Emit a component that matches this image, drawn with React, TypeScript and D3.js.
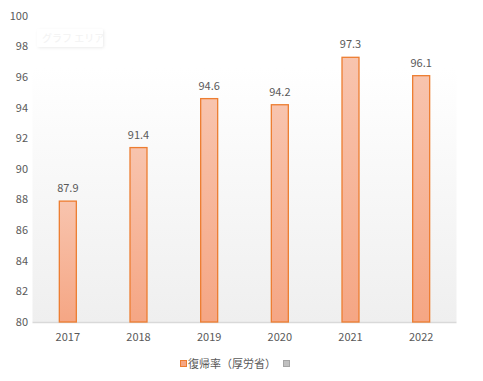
import React from "react";
import * as d3 from "d3";

const categories = ["2017", "2018", "2019", "2020", "2021", "2022"];
const values = [87.9, 91.4, 94.6, 94.2, 97.3, 96.1];
const yTicks = [80, 82, 84, 86, 88, 90, 92, 94, 96, 98, 100];
const seriesName = "復帰率（厚労省）";

export default function App() {
  const W = 483, H = 381;
  const left = 32.5, right = 456.5, top = 16, bottom = 322;
  const x = d3.scaleBand<string>().domain(categories).range([left, right]).paddingInner(0.76).paddingOuter(0.38);
  const y = d3.scaleLinear().domain([80, 100]).range([bottom, top]);
  const font = "'Noto Sans CJK JP', 'Noto Sans', sans-serif";
  const bw = 17;
  return (
    <svg width={W} height={H} style={{ position: "absolute", left: 0, top: 0, background: "#fff" }}>
      <defs>
        <linearGradient id="bg" x1="0" y1="0" x2="0" y2="1">
          <stop offset="0" stopColor="#ffffff" />
          <stop offset="1" stopColor="#efefef" />
        </linearGradient>
        <linearGradient id="bar" x1="0" y1="0" x2="0" y2="1" gradientUnits="objectBoundingBox">
          <stop offset="0" stopColor="#f8c4ae" />
          <stop offset="1" stopColor="#f5a684" />
        </linearGradient>
        <filter id="sh" x="-20%" y="-40%" width="140%" height="180%">
          <feDropShadow dx="1" dy="1" stdDeviation="1.5" floodColor="#000" floodOpacity="0.08" />
        </filter>
      </defs>
      <rect x={left} y={68} width={right - left} height={bottom - 68} fill="url(#bg)" />
      <line x1={left} x2={right} y1={bottom + 0.5} y2={bottom + 0.5} stroke="#d9d9d9" strokeWidth={1.5} />
      {yTicks.map((t) => (
        <text key={t} x={28} y={y(t)} dy="0.35em" textAnchor="end" fontSize={11} fill="#595959" fontFamily={font}>
          {t}
        </text>
      ))}
      {categories.map((c, i) => {
        const cx = (x(c) as number) + x.bandwidth() / 2;
        const yt = y(values[i]);
        return (
          <g key={c}>
            <rect x={cx - bw / 2} y={yt} width={bw} height={bottom - yt} fill="url(#bar)" stroke="#ed7d31" strokeWidth={1.3} />
            <text x={cx} y={yt - 9} textAnchor="middle" fontSize={11} fill="#595959" fontFamily={font}>
              {values[i]}
            </text>
            <text x={cx} y={341} textAnchor="middle" fontSize={11} fill="#595959" fontFamily={font}>
              {c}
            </text>
          </g>
        );
      })}
      <g filter="url(#sh)">
        <rect x={37} y={29} width={66} height={18} rx={2} fill="#fff" />
      </g>
      <text x={42} y={42} fontSize={10} fill="#f2f2f2" fontFamily={font}>グラフ エリア</text>
      <rect x={180.5} y={360.5} width={6} height={6} fill="#f5a684" stroke="#ed7d31" strokeWidth={1} />
      <text x={188} y={367.5} fontSize={11} fill="#595959" fontFamily={font}>{seriesName}</text>
      <rect x={283.5} y={360.5} width={6} height={6} fill="#c0c0c0" stroke="#a5a5a5" strokeWidth={1} />
    </svg>
  );
}
